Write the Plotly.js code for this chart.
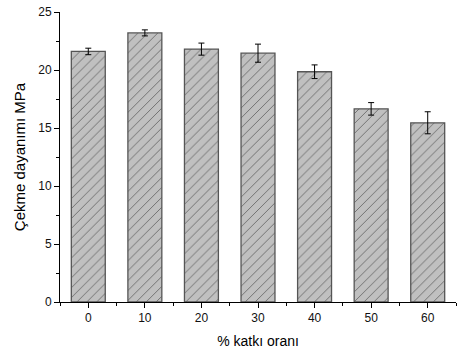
<!DOCTYPE html>
<html><head><meta charset="utf-8">
<script src="https://cdn.plot.ly/plotly-3.0.1.min.js"></script>
<style>html,body{margin:0;padding:0;background:#fff}#c{width:461px;height:349px}</style>
</head><body><div id="c"></div>
<script>
const ratios = [0, 10, 20, 30, 40, 50, 60];
const strength = [21.6, 23.2, 21.8, 21.45, 19.85, 16.65, 15.45];
const errors = [0.28, 0.26, 0.52, 0.78, 0.59, 0.54, 0.95];
const tickVals = [0, 10, 20, 30, 40, 50, 60];
const xTitle = '% katkı oranı';
const yTitle = 'Çekme dayanımı MPa';

const trace = {
  type: 'bar', x: ratios, y: strength, width: 6,
  marker: {
    color: '#c0c0c0',
    line: {color: '#555555', width: 1.3},
    pattern: {shape: '/', fgcolor: '#444444', bgcolor: '#c0c0c0', size: 7, solidity: 0.09}
  },
  error_y: {type: 'data', array: errors, visible: true, color: '#000', thickness: 1, width: 3}
};
const layout = {
  width: 461, height: 349,
  margin: {l: 60, r: 5, t: 12, b: 47},
  paper_bgcolor: '#fff', plot_bgcolor: '#fff',
  showlegend: false,
  font: {family: 'Liberation Sans, Arial, sans-serif', size: 12, color: '#000'},
  xaxis: {
    range: [-5, 65], tickvals: tickVals, ticktext: tickVals.map(String),
    showgrid: false, zeroline: false, showline: true, linecolor: '#000', linewidth: 1,
    ticks: 'outside', ticklen: 5, tickcolor: '#000',
    minor: {tickvals: [-5, 5, 15, 25, 35, 45, 55, 65], ticks: 'outside', ticklen: 3, tickcolor: '#000', showgrid: false},
    tickfont: {size: 12, color: '#111'},
    title: {text: xTitle, font: {size: 14}, standoff: 11}
  },
  yaxis: {
    range: [0, 25], tick0: 0, dtick: 5,
    showgrid: false, zeroline: false, showline: true, linecolor: '#000', linewidth: 1,
    ticks: 'outside', ticklen: 5, tickcolor: '#000',
    minor: {dtick: 2.5, ticks: 'outside', ticklen: 3, tickcolor: '#000', showgrid: false},
    tickfont: {size: 12, color: '#111'},
    title: {text: yTitle, font: {size: 15}, standoff: 8}
  }
};
Plotly.newPlot('c', [trace], layout, {displayModeBar: false, staticPlot: true});
</script></body></html>
